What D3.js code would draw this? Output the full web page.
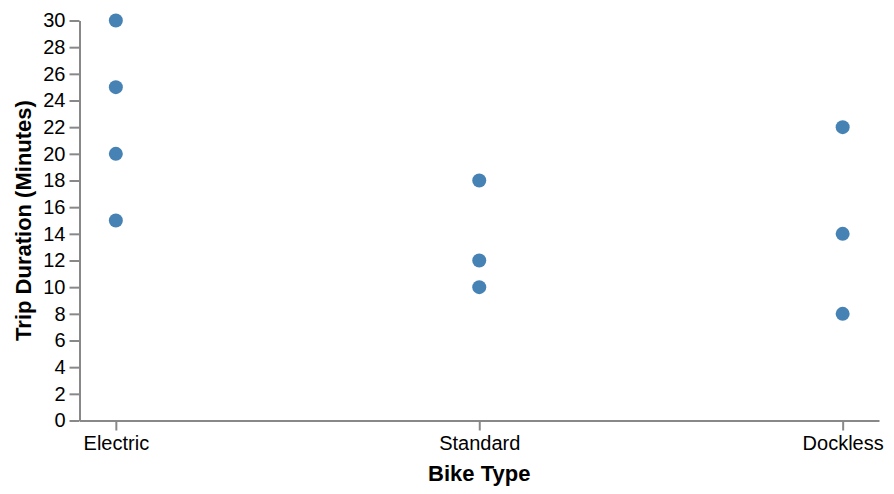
<!DOCTYPE html>
<html><head><meta charset="utf-8">
<script src="https://cdn.jsdelivr.net/npm/d3@7"></script>
<style>body{margin:0;background:#fff}svg{display:block}</style>
</head><body><svg id="c" width="894" height="494"></svg>
<script>
const categories = ["Electric", "Standard", "Dockless"];
const bikeTypes = ["Electric","Electric","Electric","Electric","Standard","Standard","Standard","Dockless","Dockless","Dockless"];
const durations = [30, 25, 20, 15, 18, 12, 10, 22, 14, 8];
const yTicks = d3.range(0, 31, 2);

const svg = d3.select("#c");
const mLeft = 79.5, mRight = 879, mTop = 20.5, mBottom = 420.5;
const x = d3.scalePoint().domain(categories).range([mLeft, mRight]).padding(0.1);
const y = d3.scaleLinear().domain([0, 30]).range([mBottom, mTop]);
const font = "Liberation Sans, Arial, Helvetica, sans-serif";

const yAxis = svg.append("g").attr("transform", `translate(${mLeft},0)`)
  .call(d3.axisLeft(y).tickValues(yTicks).tickSize(10).tickPadding(4).tickSizeOuter(0));
const xAxis = svg.append("g").attr("transform", `translate(0,${mBottom})`)
  .call(d3.axisBottom(x).tickSize(10).tickPadding(5).tickSizeOuter(0));
[yAxis, xAxis].forEach(a => {
  a.select(".domain").attr("stroke", "#888").attr("stroke-width", 2);
  a.selectAll(".tick line").attr("stroke", "#888").attr("stroke-width", 2);
  a.selectAll(".tick text").attr("fill", "#000").style("font-family", font).style("font-size", "20px");
});

svg.append("text").attr("x", (mLeft + mRight) / 2).attr("y", 481)
  .attr("text-anchor", "middle").style("font-family", font).style("font-size", "22px").style("font-weight", "bold")
  .text("Bike Type");
svg.append("text").attr("transform", `translate(31,${(mTop + mBottom) / 2}) rotate(-90)`)
  .attr("text-anchor", "middle").style("font-family", font).style("font-size", "22px").style("font-weight", "bold")
  .text("Trip Duration (Minutes)");

svg.append("g").selectAll("circle").data(durations).join("circle")
  .attr("cx", (d, i) => x(bikeTypes[i]))
  .attr("cy", d => y(d))
  .attr("r", 7)
  .attr("fill", "#4682b4");
</script></body></html>
